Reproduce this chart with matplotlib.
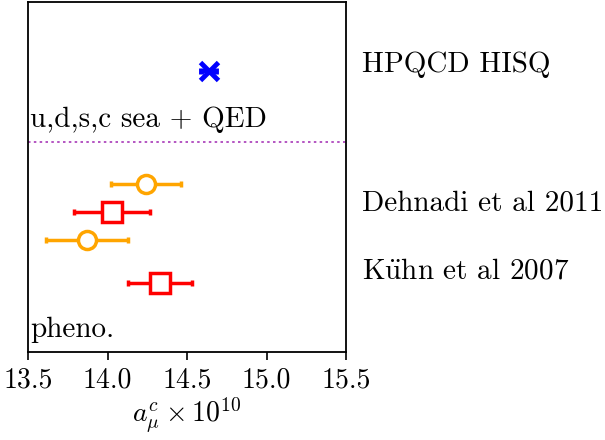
import numpy as np
import matplotlib
matplotlib.use('Agg')
import matplotlib.pyplot as plt

plt.rcParams['font.family'] = ['cmr10', 'DejaVu Serif']
plt.rcParams['mathtext.fontset'] = 'cm'
plt.rcParams['axes.formatter.use_mathtext'] = True
plt.rcParams['axes.unicode_minus'] = False

# lattice result
hpqcd_val = [14.638]
hpqcd_err = [0.047]
hpqcd_y = [5.62]

# phenomenology results
pheno_circ_val = [14.24, 13.87]
pheno_circ_err = [0.22, 0.26]
pheno_circ_y = [3.36, 2.24]

pheno_sq_val = [14.03, 14.33]
pheno_sq_err = [0.24, 0.20]
pheno_sq_y = [2.80, 1.38]

labels = ['HPQCD HISQ', 'Dehnadi et al 2011', r'K$\ddot{\mathrm{u}}$hn et al 2007']
label_y = [5.74, 2.98, 1.62]

sep_y = 4.2
xticks = [13.5, 14.0, 14.5, 15.0, 15.5]
fs = 21

fig = plt.figure(figsize=(6.05, 4.40), dpi=100)
ax = fig.add_axes([0.0463, 0.2, 0.5256, 0.7955])

ax.errorbar(hpqcd_val, hpqcd_y, xerr=hpqcd_err, fmt='x', color='blue',
            ms=13, mew=3.5, elinewidth=3, capsize=2, capthick=3)
ax.errorbar(pheno_circ_val, pheno_circ_y, xerr=pheno_circ_err, fmt='o',
            color='orange', mfc='white', ms=13, mew=2.5, elinewidth=2.5,
            capsize=2.5, capthick=3)
ax.errorbar(pheno_sq_val, pheno_sq_y, xerr=pheno_sq_err, fmt='s',
            color='red', mfc='white', ms=14, mew=2.5, elinewidth=2.5,
            capsize=2.5, capthick=3)

ax.axhline(sep_y, color='#a838b8', ls=(0, (1.5, 2)), lw=1.2)

ax.text(13.51, 4.64, 'u,d,s,c sea + QED', fontsize=fs, va='center', ha='left')
ax.text(13.515, 0.44, 'pheno.', fontsize=fs, va='center', ha='left')

for lab, yy in zip(labels, label_y):
    ax.text(1.05, yy / 7.0, lab, transform=ax.transAxes, fontsize=fs,
            va='center', ha='left', clip_on=False)

ax.set_xlim(13.5, 15.5)
ax.set_ylim(0, 7)
ax.set_xticks(xticks)
ax.set_xticklabels(['%.1f' % t for t in xticks])
ax.set_yticks([])
ax.tick_params(axis='x', labelsize=20, length=6, width=1.2, pad=5)
for s in ax.spines.values():
    s.set_linewidth(1.3)
ax.set_xlabel(r'$a_\mu^c \times 10^{10}$', fontsize=20, labelpad=1)

fig.savefig('out.png', dpi=100)
